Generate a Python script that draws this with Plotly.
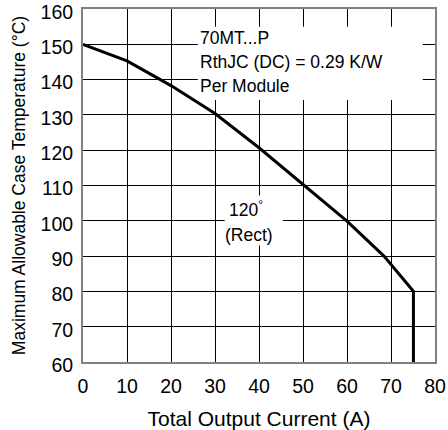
import plotly.graph_objects as go

# Data
current_a = [0, 10, 20, 30, 40, 50, 60, 68.4, 75.1, 75.1]
case_temp_c = [150, 145.3, 138.3, 130.4, 120.7, 110.3, 99.9, 90, 80, 60]

x_ticks = [0, 10, 20, 30, 40, 50, 60, 70, 80]
y_ticks = [60, 70, 80, 90, 100, 110, 120, 130, 140, 150, 160]

x_title = "Total Output Current (A)"
y_title = "Maximum Allowable Case Temperature (°C)"
info_lines = ["70MT...P", "RthJC (DC) = 0.29 K/W", "Per Module"]
cond_lines = ["120<sup>°</sup>", "(Rect)"]

FONT = "Liberation Sans, Arial, sans-serif"

fig = go.Figure()
fig.add_trace(go.Scatter(
    x=current_a, y=case_temp_c, mode="lines",
    line=dict(color="black", width=3), showlegend=False, hoverinfo="skip",
))

# white label backgrounds covering the grid
fig.add_shape(type="rect", xref="x", yref="y", x0=26.1, x1=77.2, y0=134.2, y1=155.0,
              fillcolor="white", line=dict(width=0), layer="above")
fig.add_shape(type="rect", xref="x", yref="y", x0=32.2, x1=45.45, y0=93.0, y1=107.2,
              fillcolor="white", line=dict(width=0), layer="above")

info_y = [151.75, 144.9, 138.2]
for txt, yy in zip(info_lines, info_y):
    fig.add_annotation(x=26.2, y=yy, xref="x", yref="y", text=txt, showarrow=False,
                       xanchor="left", yanchor="middle",
                       font=dict(family=FONT, size=17.5, color="black"))

cond_pos = [(37.1, 103.3), (37.8, 95.9)]
for txt, (xx, yy) in zip(cond_lines, cond_pos):
    fig.add_annotation(x=xx, y=yy, xref="x", yref="y", text=txt, showarrow=False,
                       xanchor="center", yanchor="middle",
                       font=dict(family=FONT, size=17.5, color="black"))

axis_common = dict(
    showgrid=True, gridcolor="black", gridwidth=1,
    showline=True, linecolor="#808080", linewidth=2, mirror=True,
    zeroline=False, ticks="", automargin=False, ticklabeloverflow="allow",
    tickfont=dict(family=FONT, size=19.5, color="black"),
)

fig.update_xaxes(range=[0, 80], tickvals=x_ticks, ticktext=[str(v) for v in x_ticks],
                 title=dict(text=x_title, font=dict(family=FONT, size=21, color="black")),
                 ticklabelstandoff=6, **axis_common)
fig.update_yaxes(range=[60, 160], tickvals=y_ticks, ticktext=[str(v) for v in y_ticks],
                 title=dict(text=y_title, font=dict(family=FONT, size=17.5, color="black"),
                            standoff=10),
                 ticklabelstandoff=4, ticklabelshift=3, **axis_common)

fig.update_layout(
    width=448, height=430,
    margin=dict(l=83, r=13, t=9, b=68),
    paper_bgcolor="white", plot_bgcolor="white",
    font=dict(family=FONT, color="black"),
)

fig.write_html("out.html", config={"displayModeBar": False},
               post_script="document.body.style.margin='0';")
